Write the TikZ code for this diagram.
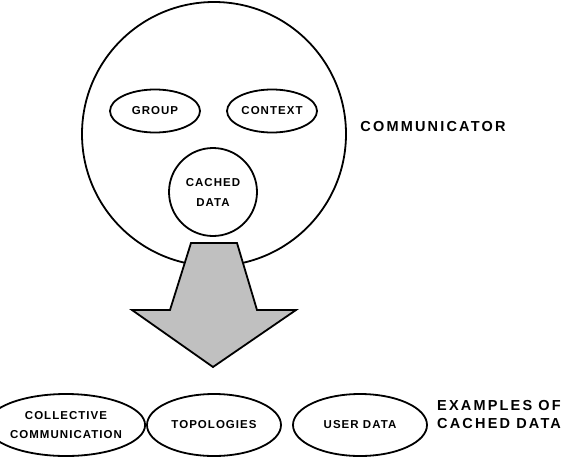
\documentclass[tikz,border=0pt]{standalone}
\usepackage{fontspec}
\usepackage{tikz}
\usetikzlibrary{shapes.geometric}
\newfontfamily\tagfont[LetterSpace=9]{Liberation Sans Bold}
\newfontfamily\headfont[LetterSpace=15]{Liberation Sans Bold}
\definecolor{arrowgrey}{RGB}{192,192,192}
\tikzset{
    outline/.style={draw, line width=1.8pt, inner sep=0pt},
    part/.style={outline, ellipse, font=\tagfont\fontsize{11.5}{20}\selectfont, align=center},
    cached/.style={part, minimum width=134pt, minimum height=62pt},
    heading/.style={inner sep=0pt, font=\headfont\fontsize{14.5}{18}\selectfont, align=left}
}

\begin{document}
\begin{tikzpicture}[x=1pt, y=-1pt]
            \useasboundingbox (0, 0) rectangle (567, 458);
            \node[outline, circle, minimum size=264pt] (comm) at (214, 134) {};
            \node[part, minimum width=90pt, minimum height=43pt] (group) at (155, 111) {GROUP};
            \node[part, minimum width=90pt, minimum height=43pt] (context) at (272, 111) {CONTEXT};
            \node[part, circle, minimum size=88pt] (data) at (213, 192) {CACHED\\DATA};
            \node[heading, anchor=center] (commlabel) at (433, 127) {COMMUNICATOR};
            \draw[line width=1.8pt, line join=miter, fill=arrowgrey] (191, 243) -- (237, 243) -- (257, 310) -- (296, 310)
                -- (213, 367) -- (132, 310) -- (170, 310) -- cycle;
            \node[cached, align=center, font=\tagfont\fontsize{11.5}{19}\selectfont] (collective) at (66, 425) {COLLECTIVE\\COMMUNICATION};
            \node[cached] (topo) at (214, 425) {TOPOLOGIES};
            \node[cached] (user) at (360, 425) {USER DATA};
            \node[heading, anchor=west] (examples) at (437, 414.5) {EXAMPLES OF\\CACHED DATA};
        \end{tikzpicture}
\end{document}
